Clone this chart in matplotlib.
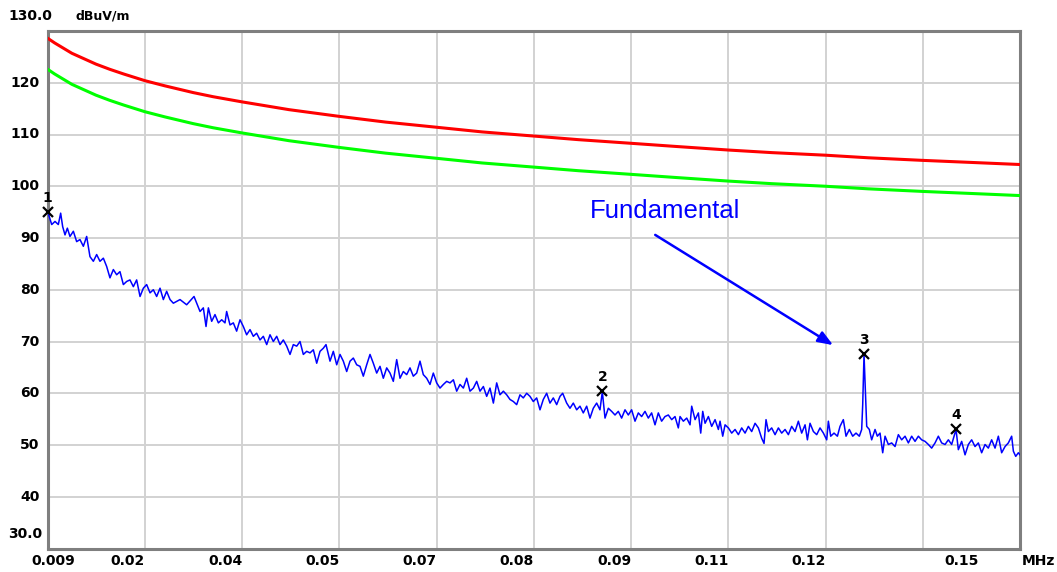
import numpy as np
import matplotlib
matplotlib.use("Agg")
import matplotlib.pyplot as plt

# ---------------- data ----------------
# limit lines (frequency in kHz, level in dBuV/m)
limit_khz = [9.0, 10.0, 11.0, 12.5, 13.0, 14.0, 16.0, 18.0, 20.0, 23.1, 26.0, 30.1, 33.0, 37.2,
             44.0, 51.3, 58.0, 65.4, 72.0, 79.5, 86.0, 93.6, 100.0, 107.7, 114.0, 121.8, 128.0,
             135.9, 143.0, 150.0]
red_limit = [128.6, 127.7, 126.9, 125.7, 125.4, 124.8, 123.6, 122.6, 121.7, 120.4, 119.4, 118.1,
             117.3, 116.3, 114.8, 113.5, 112.4, 111.4, 110.5, 109.7, 109.0, 108.3, 107.7, 107.0,
             106.5, 106.0, 105.5, 105.0, 104.6, 104.2]
green_limit = [122.6, 121.7, 120.9, 119.7, 119.4, 118.8, 117.6, 116.6, 115.7, 114.4, 113.4, 112.1,
               111.3, 110.3, 108.8, 107.5, 106.4, 105.4, 104.5, 103.7, 103.0, 102.3, 101.7, 101.0,
               100.5, 100.0, 99.5, 99.0, 98.6, 98.2]

# measured trace (frequency in kHz, level in dBuV/m)
trace_khz = [
    9.0, 9.58, 10.06, 10.54, 10.88, 11.17, 11.51, 11.85, 12.23, 12.72, 13.20, 13.68, 14.17, 14.65,
    15.13, 15.62, 16.10, 16.58, 17.07, 17.55, 18.03, 18.52, 19.00, 19.48, 19.97, 20.45, 20.93,
    21.42, 21.90, 22.39, 22.87, 23.35, 23.84, 24.32, 24.80, 25.29, 25.77, 26.25, 26.74, 27.22,
    28.19, 29.15, 30.22,
    31.09, 31.57, 31.96, 32.30, 32.78, 33.26, 33.75, 34.23, 34.71, 34.95, 35.44, 35.92, 36.40,
    36.89, 37.37, 37.85, 38.34, 38.82, 39.30, 39.79, 40.27, 40.76, 41.24, 41.72, 42.21, 42.69,
    43.17, 43.66, 44.14, 44.62, 45.11, 45.59, 46.07, 46.56, 47.04, 47.52, 48.01, 48.49, 48.97,
    49.36, 49.94, 50.42, 50.91, 51.39, 51.87, 52.36, 52.84, 53.32, 53.81,
    54.29, 54.77, 55.26, 55.74, 56.22, 56.71, 57.19, 57.67, 58.16, 58.64, 59.12, 59.61, 60.09,
    60.57, 61.06, 61.54, 62.02, 62.51, 62.99, 63.47, 63.96, 64.44, 64.92, 65.41, 65.89, 66.38,
    66.86, 67.34, 67.83, 68.31, 68.79, 69.28, 69.76, 70.24, 70.73, 71.21, 71.69, 72.18, 72.66,
    73.14, 73.63, 74.11, 74.59, 75.08, 75.56, 76.04, 76.53, 77.01,
    77.49, 77.97, 78.46, 78.94, 79.42, 79.91, 80.39, 80.87, 81.36, 81.84, 82.32, 82.81, 83.29,
    83.68, 84.26, 84.74, 85.22, 85.71, 86.19, 86.67, 87.16, 87.64, 88.12, 88.61, 89.09, 89.43,
    89.82, 90.30, 90.78, 91.27, 91.75, 92.23, 92.72, 93.20, 93.68, 94.17, 94.65, 95.13, 95.62,
    96.10, 96.58, 97.07, 97.55, 98.03, 98.52, 99.00, 99.49, 99.97, 100.45,
    100.70, 101.18, 101.67, 102.15, 102.39, 102.88, 103.36, 103.70, 103.99, 104.33, 104.81,
    105.29, 105.78, 106.26, 106.50, 106.89, 107.23, 107.71, 108.19, 108.68, 109.16, 109.64,
    110.13, 110.61, 111.09, 111.58, 112.06, 112.54, 112.88, 113.17, 113.51, 113.99, 114.48,
    114.96, 115.44, 115.93, 116.41, 116.89, 117.38, 117.86, 118.34, 118.83, 119.17, 119.55,
    120.04, 120.52, 121.00, 121.49, 121.97, 122.21, 122.55, 123.03, 123.52,
    123.90, 124.38, 124.77, 125.25, 125.74, 126.22, 126.70, 127.04, 127.19, 127.38, 127.57,
    127.77, 128.15, 128.49, 128.98, 129.31, 129.70, 130.09, 130.43, 130.91, 131.39, 131.88,
    132.36, 132.84, 133.33, 133.81, 134.29, 134.78, 135.26, 135.74, 136.23, 136.71, 137.19,
    137.68, 138.16, 138.64, 139.13, 139.61, 140.09, 140.72, 141.06, 141.54, 142.03, 142.51,
    142.99, 143.48, 143.96, 144.44, 144.93, 145.41, 145.89, 146.38, 146.86, 147.34, 147.83,
    148.31, 148.79, 149.04, 149.38, 149.76, 150.0,
]
trace_level = [
    95.1, 92.6, 93.2, 92.6, 94.8, 92.2, 90.6, 91.9, 90.3, 91.3, 89.3, 89.7, 88.4, 90.3,
    86.4, 85.5, 86.8, 85.5, 86.1, 84.5, 82.3, 83.9, 82.9, 83.5, 81.0, 81.6, 81.9,
    80.6, 81.9, 78.7, 80.3, 81.0, 79.4, 80.0, 78.7, 80.3, 78.1, 79.7, 78.1, 77.4,
    78.1, 77.1, 78.7,
    75.8, 76.5, 72.9, 76.5, 73.9, 75.2, 73.6, 74.2, 73.6, 75.8, 73.2, 73.6, 72.0,
    74.2, 72.9, 71.3, 72.3, 71.0, 71.6, 70.3, 71.0, 69.4, 71.3, 70.0, 71.0, 69.4,
    70.3, 69.1, 67.5, 69.4, 69.1, 70.0, 67.5, 68.1, 67.8, 68.4, 65.8, 68.1, 68.7,
    69.4, 66.2, 68.1, 65.5, 67.5, 66.2, 64.2, 66.2, 66.8, 65.5,
    65.2, 63.3, 65.5, 67.5, 65.8, 63.9, 65.2, 62.9, 64.9, 63.9, 62.3, 66.5, 62.9,
    64.2, 63.6, 64.9, 63.3, 63.9, 66.2, 63.6, 62.9, 61.7, 63.9, 62.0, 61.0, 61.7,
    62.3, 62.0, 62.6, 60.4, 61.7, 61.0, 62.9, 60.4, 61.0, 62.3, 60.4, 61.3, 59.4,
    61.0, 58.1, 62.0, 59.7, 60.4, 59.7, 58.8, 58.4, 57.8,
    59.7, 59.1, 60.0, 59.4, 58.4, 59.1, 56.8, 58.8, 60.0, 58.1, 59.1, 57.8, 59.4,
    60.0, 58.1, 57.1, 58.1, 56.8, 57.5, 56.2, 57.5, 55.2, 57.1, 58.1, 56.8, 60.3,
    55.2, 57.1, 56.5, 55.8, 56.5, 55.2, 56.8, 55.8, 56.8, 54.6, 56.2, 55.5, 56.5,
    55.2, 56.2, 53.9, 56.2, 54.6, 55.5, 55.8, 54.9, 55.5, 53.3,
    55.5, 54.6, 55.2, 53.9, 57.5, 54.9, 56.2, 52.3, 56.5, 54.2, 55.5,
    53.6, 54.9, 53.0, 54.6, 51.7, 53.9, 53.3, 52.3, 53.0, 52.0, 53.3,
    52.3, 53.6, 52.6, 54.2, 53.3, 51.3, 50.3, 54.9, 52.6, 53.3, 52.0,
    53.3, 52.3, 53.0, 52.0, 53.6, 52.6, 54.6, 52.3, 53.9, 51.0, 54.2,
    52.6, 52.0, 53.3, 52.3, 51.0, 54.6, 51.7, 52.3, 51.7,
    53.6, 54.9, 51.7, 53.0, 51.7, 52.3, 51.7, 53.0, 57.8, 67.5, 60.7,
    53.6, 53.0, 51.0, 53.0, 51.7, 52.3, 48.5, 51.7, 50.1, 50.4, 49.7,
    52.0, 51.0, 51.7, 50.4, 51.7, 50.7, 51.7, 51.0, 50.7, 50.1, 49.4,
    50.4, 51.7, 50.4, 50.1, 51.0, 50.1, 53.0, 49.1, 50.7, 48.1, 50.1,
    51.0, 49.7, 50.4, 48.5, 50.1, 49.4, 51.0, 49.4, 51.7, 48.5, 49.7,
    50.4, 51.7, 48.8, 47.8, 48.5, 48.1,
]

# markers
marker_ids = ["1", "2", "3", "4"]
marker_khz = [9.0, 89.43, 127.38, 140.72]
marker_level = [95.1, 60.5, 67.5, 53.1]

# axis labelling
x_start, x_stop = 0.009, 0.150           # MHz
x_tick_labels = ["0.009", "0.02", "0.04", "0.05", "0.07", "0.08", "0.09", "0.11", "0.12", "", "0.15"]
y_ticks = [40, 50, 60, 70, 80, 90, 100, 110, 120]
y_min, y_max = 30, 130

# ---------------- plot ----------------
W, H, DPI = 1057, 572, 100
fig = plt.figure(figsize=(W / DPI, H / DPI), dpi=DPI)
fig.patch.set_facecolor("white")
ax = fig.add_axes([47.7 / W, 1 - 548.5 / H, (1020 - 47.7) / W, (548.5 - 31) / H])

ax.set_xlim(x_start, x_stop)
ax.set_ylim(y_min, y_max)

grid_x = np.linspace(x_start, x_stop, len(x_tick_labels))
for gx in grid_x[1:-1]:
    ax.axvline(gx, color="#d2d2d2", lw=1.4, zorder=0)
for gy in y_ticks:
    ax.axhline(gy, color="#d2d2d2", lw=1.4, zorder=0)

lim_mhz = np.array(limit_khz) / 1000.0
ax.plot(lim_mhz, red_limit, color="#ff0000", lw=2.2, zorder=3)
ax.plot(lim_mhz, green_limit, color="#00ff00", lw=2.2, zorder=3)

tr_mhz = np.array(trace_khz) / 1000.0
ax.plot(tr_mhz, trace_level, color="#0000ff", lw=1.1, zorder=4)

mk_mhz = np.array(marker_khz) / 1000.0
ax.plot(mk_mhz, marker_level, linestyle="none", marker="x", color="black",
        markersize=7, mew=1.6, zorder=6, clip_on=False)
for mid, mx, my in zip(marker_ids, mk_mhz, marker_level):
    ax.annotate(mid, (mx, my), xytext=(0, 5), textcoords="offset points",
                ha="center", va="bottom", fontsize=10, fontweight="bold",
                family="DejaVu Sans", color="black", zorder=7, annotation_clip=False)

# frame
for side in ["left", "bottom", "top", "right"]:
    ax.spines[side].set_color("#7f7f7f")
    ax.spines[side].set_linewidth(2.2)
ax.tick_params(length=0)
ax.set_xticks([])
ax.set_yticks([])

lab_font = dict(fontsize=10, fontweight="bold", family="DejaVu Sans", color="black")

# y labels
for yv in y_ticks:
    ax.annotate(str(yv), (x_start, yv), xytext=(-6, 0), textcoords="offset points",
                ha="right", va="center", annotation_clip=False, **lab_font)
ax.annotate("130.0", (x_start, y_max), xytext=(3, 10.5), textcoords="offset points",
            ha="right", va="center", annotation_clip=False, **lab_font)
ax.annotate("30.0", (x_start, y_min), xytext=(-4, 10.5), textcoords="offset points",
            ha="right", va="center", annotation_clip=False, **lab_font)
ax.annotate("dBuV/m", (x_start, y_max), xytext=(20, 10.5), textcoords="offset points",
            ha="left", va="center", annotation_clip=False,
            fontsize=9, fontweight="bold", family="DejaVu Sans", color="black")

# x labels
for i, (gx, lab) in enumerate(zip(grid_x, x_tick_labels)):
    if not lab:
        continue
    if i == 0:
        ax.annotate(lab, (gx, y_min), xytext=(4, -4), textcoords="offset points",
                    ha="center", va="top", annotation_clip=False, **lab_font)
    elif i == len(grid_x) - 1:
        ax.annotate(lab, (gx, y_min), xytext=(-30, -4), textcoords="offset points",
                    ha="right", va="top", annotation_clip=False, **lab_font)
    else:
        ax.annotate(lab, (gx, y_min), xytext=(0, -4), textcoords="offset points",
                    ha="right", va="top", annotation_clip=False, **lab_font)
ax.annotate("MHz", (x_stop, y_min), xytext=(1, -4), textcoords="offset points",
            ha="left", va="top", annotation_clip=False, **lab_font)

# annotation
ax.text(0.0985, 95.2, "Fundamental", color="#0000ff", fontsize=18.5,
        family="Liberation Sans", ha="center", va="center", zorder=8)
ax.annotate("", xy=(0.1229, 69.3), xytext=(0.0971, 90.6),
            arrowprops=dict(arrowstyle="-|>,head_length=0.9,head_width=0.35",
                            color="#0000ff", lw=1.8, shrinkA=0, shrinkB=0),
            zorder=8)

fig.savefig("out.png", dpi=DPI, facecolor="white")
